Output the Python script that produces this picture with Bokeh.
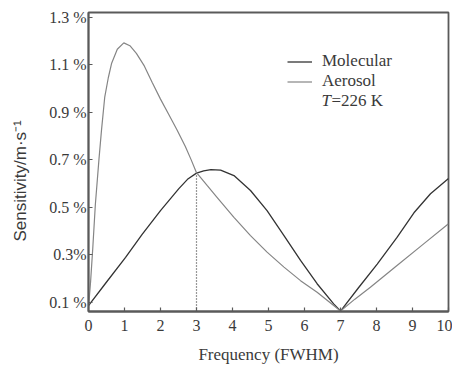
from bokeh.plotting import figure
from bokeh.models import FixedTicker, Legend, LegendItem, Label
from bokeh.embed import file_html
from bokeh.resources import INLINE

# --- data ---
mol_freq = [0, 0.47, 1.03, 1.49, 2.0, 2.51, 2.75, 3.0, 3.2, 3.4, 3.67, 4.04, 4.5, 4.96, 5.43,
            5.89, 6.35, 6.81, 7.0, 7.5, 8.02, 8.57, 9.04, 9.5, 10.0]
mol_sens = [0.085, 0.178, 0.288, 0.385, 0.485, 0.578, 0.617, 0.643, 0.653, 0.658, 0.656, 0.633,
            0.57, 0.485, 0.38, 0.275, 0.177, 0.092, 0.062, 0.16, 0.26, 0.372, 0.476, 0.556, 0.62]

aer_freq = [0, 0.06, 0.12, 0.19, 0.29, 0.36, 0.45, 0.55, 0.64, 0.8, 0.98, 1.15, 1.33, 1.55, 1.77,
            2.0, 2.23, 2.46, 2.69, 2.85, 3.0, 3.11, 3.3, 3.57, 4.04, 4.5, 4.96, 5.43, 5.89, 6.35,
            6.81, 7.0, 7.4, 7.83, 8.57, 9.31, 10.0]
aer_sens = [0.075, 0.19, 0.33, 0.51, 0.70, 0.822, 0.962, 1.045, 1.105, 1.165, 1.192, 1.18, 1.148,
            1.095, 1.025, 0.955, 0.89, 0.825, 0.755, 0.70, 0.645, 0.625, 0.59, 0.541, 0.457, 0.38,
            0.31, 0.247, 0.19, 0.141, 0.085, 0.062, 0.112, 0.162, 0.254, 0.345, 0.43]

cross_freq = [3.0, 3.0]
cross_sens = [0.06, 0.643]

x_ticks = [0, 1, 2, 3, 4, 5, 6, 7, 8, 9, 10]
y_ticks = [0.1, 0.3, 0.5, 0.7, 0.9, 1.1, 1.3]
y_tick_labels = ["0.1 %", "0.3%", "0.5 %", "0.7 %", "0.9 %", "1.1 %", "1.3 %"]

SERIF = "Liberation Serif"
SANS = "Liberation Sans"
FRAME = "#5a5a5a"
TXT = "#3a3a3a"

p = figure(width=452, height=367, output_backend="svg", toolbar_location=None,
           x_range=(0, 10), y_range=(0.06, 1.32),
           min_border_left=88, min_border_right=4, min_border_top=12, min_border_bottom=56)

p.grid.visible = False
p.outline_line_color = FRAME
p.outline_line_width = 1.8

r_mol = p.line(mol_freq, mol_sens, line_color="#333333", line_width=1.3)
r_aer = p.line(aer_freq, aer_sens, line_color="#858585", line_width=1.2)
p.line(cross_freq, cross_sens, line_color="#333333", line_width=1.2, line_dash="1 2")

for ax in (p.xaxis[0], p.yaxis[0]):
    ax.axis_line_color = FRAME
    ax.axis_line_width = 1.8
    ax.major_tick_in = 4
    ax.major_tick_out = 0
    ax.major_tick_line_color = FRAME
    ax.major_tick_line_width = 1.2
    ax.minor_tick_line_color = None
    ax.major_label_text_font = SERIF
    ax.major_label_text_font_size = "16px"
    ax.major_label_text_color = TXT

p.xaxis.ticker = FixedTicker(ticks=x_ticks)
p.xaxis.major_label_standoff = 8
p.xaxis.axis_label = "Frequency (FWHM)"
p.xaxis.axis_label_text_font = SERIF
p.xaxis.axis_label_text_font_style = "normal"
p.xaxis.axis_label_text_font_size = "17px"
p.xaxis.axis_label_text_color = TXT
p.xaxis.axis_label_standoff = 11

p.yaxis.ticker = FixedTicker(ticks=y_ticks)
p.yaxis.major_label_overrides = {t: s for t, s in zip(y_ticks, y_tick_labels)}
p.yaxis.major_label_standoff = 2
p.yaxis.axis_label = "Sensitivity/m\u00b7s\u207b\u00b9" + "\u00a0" * 8
p.yaxis.axis_label_text_font = SANS
p.yaxis.axis_label_text_font_style = "normal"
p.yaxis.axis_label_text_font_size = "17px"
p.yaxis.axis_label_text_color = TXT
p.yaxis.axis_label_standoff = 16

legend = Legend(items=[LegendItem(label="Molecular", renderers=[r_mol]),
                       LegendItem(label="Aerosol", renderers=[r_aer])],
                location=(199, 220), padding=0, margin=0, spacing=0,
                glyph_width=25, glyph_height=17, label_height=17, label_standoff=10,
                label_text_font=SERIF, label_text_font_size="17px", label_text_color=TXT,
                border_line_alpha=0, background_fill_alpha=0)
p.add_layout(legend)

lab_x = 6.47
lab_y = 0.948
p.add_layout(Label(x=lab_x, y=lab_y, text="T", text_font=SERIF, text_font_style="italic",
                   text_font_size="17px", text_color=TXT, text_baseline="middle"))
p.add_layout(Label(x=lab_x, y=lab_y, x_offset=10, text="=226 K", text_font=SERIF,
                   text_font_size="17px", text_color=TXT, text_baseline="middle"))

open("out.html", "w").write(file_html(p, INLINE))
